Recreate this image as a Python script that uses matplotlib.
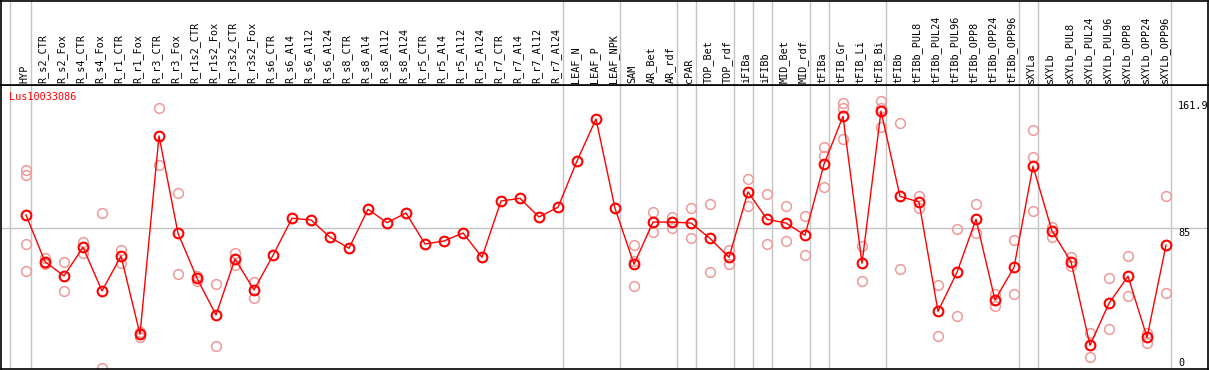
import matplotlib.pyplot as plt
from matplotlib.transforms import blended_transform_factory

gene = "Lus10033086"

samples = [
    "HYP",
    "R_s2_CTR", "R_s2_Fox", "R_s4_CTR", "R_s4_Fox", "R_r1_CTR", "R_r1_Fox",
    "R_r3_CTR", "R_r3_Fox", "R_r1s2_CTR", "R_r1s2_Fox", "R_r3s2_CTR", "R_r3s2_Fox",
    "R_s6_CTR", "R_s6_Al4", "R_s6_Al12", "R_s6_Al24", "R_s8_CTR", "R_s8_Al4",
    "R_s8_Al12", "R_s8_Al24", "R_r5_CTR", "R_r5_Al4", "R_r5_Al12", "R_r5_Al24",
    "R_r7_CTR", "R_r7_Al4", "R_r7_Al12", "R_r7_Al24",
    "LEAF_N", "LEAF_P", "LEAF_NPK",
    "SAM", "AR_Bet", "AR_rdf", "cPAR", "TOP_Bet", "TOP_rdf", "iFIBa", "iFIBb",
    "MID_Bet", "MID_rdf", "tFIBa", "tFIB_Gr", "tFIB_Li", "tFIB_Bi",
    "tFIBb", "tFIBb_PUL8", "tFIBb_PUL24", "tFIBb_PUL96", "tFIBb_OPP8",
    "tFIBb_OPP24", "tFIBb_OPP96",
    "sXYLa", "sXYLb", "sXYLb_PUL8", "sXYLb_PUL24", "sXYLb_PUL96", "sXYLb_OPP8",
    "sXYLb_OPP24", "sXYLb_OPP96",
]

means = [
    92.9,
    64.5, 55.9, 73.3, 46.8, 68.0, 20.5, 140.9, 81.8, 54.5, 32.2, 66.2, 47.4,
    68.4, 90.9, 89.9, 79.4, 72.7, 96.4, 88.2, 94.1, 75.3, 77.1, 82.0, 67.2,
    101.4, 103.0, 91.7, 97.6,
    125.7, 151.2, 97.0,
    63.0, 88.6, 88.6, 88.0, 78.7, 67.2, 106.9, 90.3, 88.0, 80.6,
    123.7, 152.8, 63.6, 156.0,
    104.2, 100.8, 34.4, 58.1, 90.3, 41.3, 61.1,
    122.5, 83.2, 64.5, 13.8, 39.3, 55.7, 18.6, 74.5,
]

replicates = [
    [120.2, 117.2, 75.3, 58.9],
    [66.8, 63.6, 63.1], [64.5, 46.8], [76.5, 69.6], [93.9, 0.3],
    [71.6, 63.9], [22.0, 19.0], [157.7, 123.3], [106.1, 56.9],
    [56.0, 52.8], [50.8, 13.4], [69.6, 62.5], [52.0, 42.3],
    [], [], [], [], [], [], [], [], [], [], [], [], [], [], [], [],
    [], [], [],
    [74.5, 65.0, 49.6], [94.5, 88.6, 82.8], [91.9, 88.6, 85.2],
    [97.0, 78.7], [99.6, 58.1], [71.6, 63.0], [114.6, 98.4], [105.6, 75.1],
    [98.4, 77.1], [92.3, 68.4],
    [134.0, 128.7, 109.7], [160.7, 158.0, 138.9], [74.1, 52.6],
    [161.9, 158.0, 146.3],
    [148.6, 60.1], [104.4, 97.0], [50.2, 19.2], [84.2, 31.6],
    [99.6, 81.8], [44.7, 37.8], [77.5, 45.1],
    [144.3, 127.9, 95.1], [85.4, 79.7], [67.6, 62.1], [21.3, 6.5],
    [54.5, 23.5], [67.8, 43.5], [21.3, 15.4], [104.4, 45.3],
]

# last sample of each group -> grey separator after it
group_ends = [0, 28, 31, 34, 35, 37, 38, 39, 41, 42, 45, 52, 53, 60]

y_max = 161.9
y_mid = 85

W, H = 1209, 370
fig = plt.figure(figsize=(W / 100, H / 100), dpi=100)

# pixel geometry of the original panel
px_left, px_right = 1, 1208
px_head, px_bottom = 85, 369
px_x0, px_step = 26, 19
px_zero, px_scale = 368, 140 / 85

xlim = ((px_left - px_x0) / px_step, (px_right - px_x0) / px_step)
ylim = (-(px_bottom - px_zero) / px_scale, (px_zero - px_head) / px_scale)

ax = fig.add_axes([px_left / W, 1 - px_bottom / H,
                   (px_right - px_left) / W, (px_bottom - px_head) / H])
hx = fig.add_axes([px_left / W, 1 - px_head / H,
                   (px_right - px_left) / W, (px_head - 0.5) / H])

for a in (ax, hx):
    a.set_xlim(*xlim)
    a.set_xticks([])
    a.set_yticks([])
    for s in a.spines.values():
        s.set_color("black")
        s.set_linewidth(1.2)
ax.set_ylim(*ylim)
hx.set_ylim(0, px_head)

grey = "#c4c4c4"
seps = [(10 - px_x0) / px_step] + [i + 0.24 for i in group_ends]
for s in seps:
    ax.axvline(s, color=grey, lw=1, zorder=0)
    hx.axvline(s, color=grey, lw=1, zorder=0)
ax.axhline(y_mid, color=grey, lw=1, zorder=0)

xs = list(range(len(samples)))

for i, reps in enumerate(replicates):
    if reps:
        ax.plot([i] * len(reps), reps, "o", ls="none", ms=7, mfc="none",
                mec="#ee9a9a", mew=1.1, zorder=2)

ax.plot(xs, means, "-", color="red", lw=1, zorder=3)
ax.plot(xs, means, "o", ls="none", ms=7, mfc="none", mec="red",
        mew=1.5, zorder=4)

mono = "DejaVu Sans Mono"
for i, name in enumerate(samples):
    hx.text(i - 0.1, px_head - 83, name, rotation=90, ha="center",
            va="bottom", fontsize=7.3, family=mono)

ax.text((9 - px_left) / (px_right - px_left), (px_zero - 97) / px_scale,
        gene, transform=blended_transform_factory(ax.transAxes, ax.transData),
        color="red", fontsize=7.3, family=mono, va="center", ha="left")

rt = blended_transform_factory(ax.transAxes, ax.transData)
rx = (1178 - px_left) / (px_right - px_left)
ax.text(rx, y_max, "161.9", transform=rt, fontsize=7.3, family=mono,
        va="top", ha="left")
ax.text(rx, y_mid, "85", transform=rt, fontsize=7.3, family=mono,
        va="top", ha="left")
ax.text(rx, 0, "0", transform=rt, fontsize=7.3, family=mono,
        va="bottom", ha="left")

fig.savefig("out.png", dpi=100)
